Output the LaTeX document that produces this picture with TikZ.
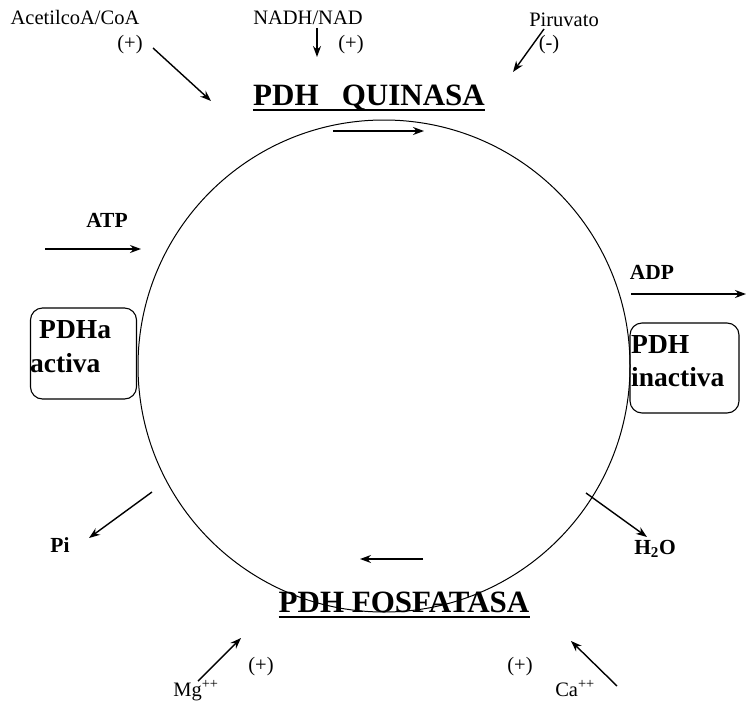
\documentclass[tikz,border=0pt]{standalone}
\usepackage{fontspec}
\setmainfont{Liberation Serif}
\usetikzlibrary{arrows.meta}
\begin{document}
\begin{tikzpicture}[x=1pt,y=-1pt,
  lbl/.style={inner sep=0pt,font=\fontsize{20.5}{24}\selectfont},
  blbl/.style={inner sep=0pt,font=\fontsize{21.5}{25}\selectfont\bfseries},
  head/.style={inner sep=0pt,font=\fontsize{31}{35}\selectfont\bfseries},
  big/.style={inner sep=0pt,font=\fontsize{27.5}{32}\selectfont\bfseries},
  stbox/.style={draw,line width=1.1pt,rounded corners=12pt},
  arr/.style={line width=1.4pt,-{Stealth[length=11pt,width=8pt]}},
  ul/.style={line width=1.6pt}]
\useasboundingbox (0,0) rectangle (746,701);
% cycle
\node[circle,draw,line width=1pt,minimum size=492pt,inner sep=0pt] (cyc) at (384,366) {};
% top labels
\node[lbl,anchor=base] (acet) at (75,25) {AcetilcoA/CoA};
\node[lbl,anchor=base] (p1) at (130,50) {(+)};
\node[lbl,anchor=base] (nadh) at (308,25) {NADH/NAD};
\node[lbl,anchor=base] (p2) at (351,50) {(+)};
\node[lbl,anchor=base] (piru) at (564,27) {Piruvato};
\node[lbl,anchor=base] (m1) at (549,50) {(-)};
\coordinate (a1s) at (153,48); \coordinate (a1e) at (211,101);
\coordinate (a2s) at (317,28); \coordinate (a2e) at (317,57);
\coordinate (a3s) at (544,29); \coordinate (a3e) at (513,72);
\draw[arr] (a1s) -- (a1e);
\draw[arr] (a2s) -- (a2e);
\draw[arr] (a3s) -- (a3e);
% PDH QUINASA
\node[head,anchor=base] (quin) at (369,105) {PDH\ \ \ QUINASA};
\draw[ul] (quin.base west) ++(0,5) coordinate (qu1) -- (quin.base east |- qu1);
\coordinate (q1) at (333,131); \coordinate (q2) at (424,131);
\draw[arr,line width=1.2pt] (q1) -- (q2);
% ATP
\node[blbl,anchor=base] (atp) at (107,227) {ATP};
\coordinate (atps) at (45,249); \coordinate (atpe) at (141,249);
\draw[arr,line width=1.2pt] (atps) -- (atpe);
% PDHa activa
\node[stbox,minimum width=106pt,minimum height=91pt] (act) at (83.5,353.5) {};
\node[big,anchor=base west] (act1) at (39,338) {PDHa};
\node[big,anchor=base west] (act2) at (30,372) {activa};
% ADP
\node[blbl,anchor=base] (adp) at (652,279) {ADP};
\coordinate (adps) at (631,294); \coordinate (adpe) at (746,294);
\draw[arr,line width=1.2pt] (adps) -- (adpe);
% PDH inactiva
\node[stbox,minimum width=109pt,minimum height=90pt] (inact) at (684.5,368) {};
\node[big,anchor=base west] (in1) at (631,353) {PDH};
\node[big,anchor=base west] (in2) at (631,386) {inactiva};
% Pi and H2O
\node[blbl,anchor=base] (pi) at (60,552) {Pi};
\coordinate (pis) at (152,492); \coordinate (pie) at (89,538);
\draw[arr] (pis) -- (pie);
\node[blbl,anchor=base] (h2o) at (655,554) {H\textsubscript{2}O};
\coordinate (hs) at (586,493); \coordinate (he) at (647,537);
\draw[arr] (hs) -- (he);
% bottom inner arrow
\coordinate (f1) at (423,559); \coordinate (f2) at (360,559);
\draw[arr,line width=1.2pt] (f1) -- (f2);
% PDH FOSFATASA
\node[head,anchor=base] (fosf) at (404,612) {PDH FOSFATASA};
\draw[ul] (fosf.base west) ++(0,5) coordinate (fu1) -- (fosf.base east |- fu1);
% Mg and Ca
\node[lbl,anchor=base] (mg) at (196,696) {Mg\textsuperscript{++}};
\node[lbl,anchor=base] (p3) at (261,671) {(+)};
\coordinate (mgs) at (198,681); \coordinate (mge) at (241,638);
\draw[arr] (mgs) -- (mge);
\node[lbl,anchor=base] (p4) at (520,671) {(+)};
\node[lbl,anchor=base] (ca) at (575,696) {Ca\textsuperscript{++}};
\coordinate (cas) at (617,686); \coordinate (cae) at (571,641);
\draw[arr] (cas) -- (cae);
\end{tikzpicture}
\end{document}
